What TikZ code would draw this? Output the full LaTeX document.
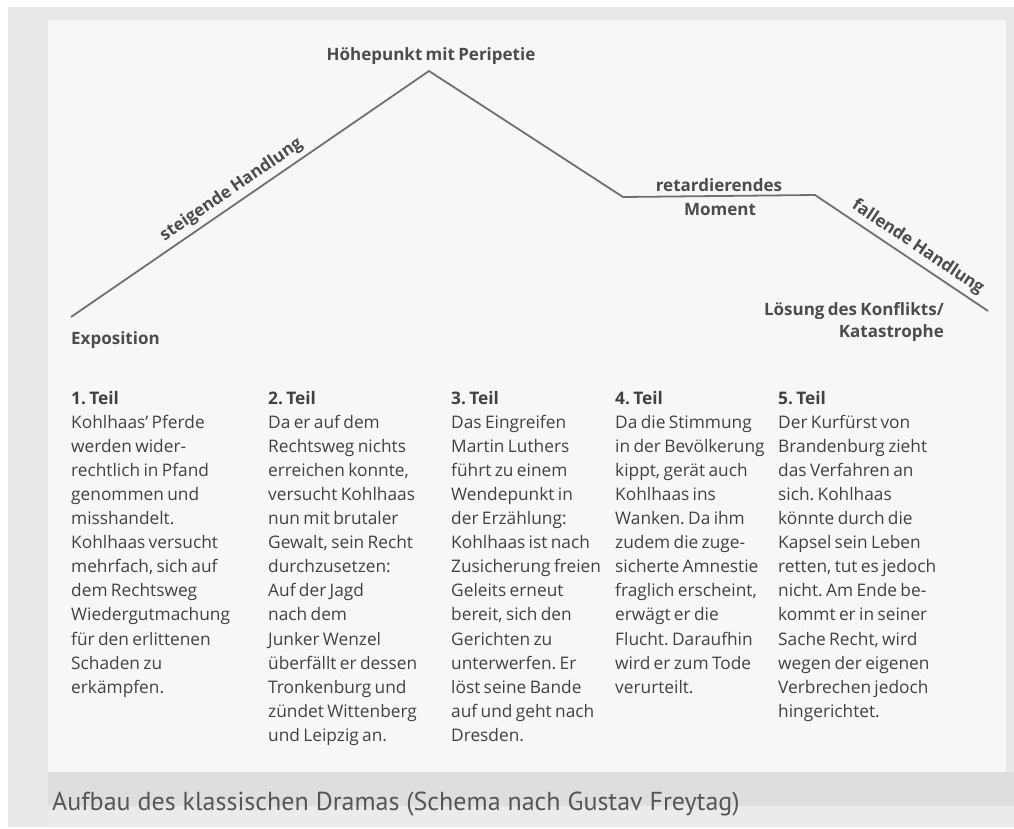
\documentclass[tikz,border=0pt]{standalone}
\usepackage{fontspec}
\setmainfont{Open Sans}[WordSpace=0.75]
\newfontfamily\capfont{PT Sans}
\definecolor{pagegrey}{HTML}{E8E8E8}
\definecolor{panel}{HTML}{F7F7F7}
\definecolor{strip}{HTML}{DEDEDE}
\definecolor{lowgrey}{HTML}{EBEBEB}
\definecolor{linegrey}{HTML}{707070}
\definecolor{labgrey}{HTML}{4C4C4C}
\definecolor{txtgrey}{HTML}{424242}
\definecolor{capgrey}{HTML}{565656}
\frenchspacing
\begin{document}
\begin{tikzpicture}[x=1pt,y=-1pt,
  curve/.style={draw=linegrey, line width=1.8pt, line join=miter},
  lab/.style={font=\fontsize{17}{20}\selectfont\bfseries, text=labgrey, inner sep=0pt},
  slab/.style={font=\fontsize{17}{20}\selectfont\bfseries, text=labgrey, inner sep=5pt, sloped, above},
  col/.style={font=\fontsize{17.3}{24.07}\selectfont, text=txtgrey, align=left, anchor=north west, inner sep=0pt},
]
\useasboundingbox (0,0) rectangle (1014,829);
\fill[white] (0,0) rectangle (1014,829);
\fill[pagegrey] (8,7) rectangle (1014,827);
\fill[panel] (48,20) rectangle (1006,772);
\fill[strip] (48,772) rectangle (1014,806);
\fill[lowgrey] (48,806) rectangle (1014,827);

% curve
\coordinate (start) at (71,317);
\coordinate (peak) at (429,71);
\coordinate (r1) at (623,197);
\coordinate (r2) at (815,195);
\coordinate (end) at (988,311);
\draw[curve] (start) -- (peak) -- (r1) -- (r2) -- (end);
\path (start) -- node[slab, pos=0.47] (steig) {steigende Handlung} (peak);
\path (r2) -- node[slab, pos=0.55] (fall) {fallende Handlung} (end);

\node[lab, anchor=base] (hoe) at (431,61) {Höhepunkt mit Peripetie};
\node[lab, anchor=base] (retard) at (719,192) {retardierendes};
\node[lab, anchor=base] (moment) at (720,215) {Moment};
\node[lab, anchor=base east] (loes) at (944,315) {Lösung des Konflikts/};
\node[lab, anchor=base east] (kata) at (944,337) {Katastrophe};
\node[lab, anchor=base west] (expo) at (71,344) {Exposition};

\node[col] (t1) at (71,391) {\textbf{1. Teil}\\Kohlhaas' Pferde\\werden wider-\\rechtlich in Pfand\\genommen und\\misshandelt.\\Kohlhaas versucht\\mehrfach, sich auf\\dem Rechtsweg\\Wiedergutmachung\\für den erlittenen\\Schaden zu\\erkämpfen.};
\node[col] (t2) at (268,391) {\textbf{2. Teil}\\Da er auf dem\\Rechtsweg nichts\\erreichen konnte,\\versucht Kohlhaas\\nun mit brutaler\\Gewalt, sein Recht\\durchzusetzen:\\Auf der Jagd\\nach dem\\Junker Wenzel\\überfällt er dessen\\Tronkenburg und\\zündet Wittenberg\\und Leipzig an.};
\node[col] (t3) at (451,391) {\textbf{3. Teil}\\Das Eingreifen\\Martin Luthers\\führt zu einem\\Wendepunkt in\\der Erzählung:\\Kohlhaas ist nach\\Zusicherung freien\\Geleits erneut\\bereit, sich den\\Gerichten zu\\unterwerfen. Er\\löst seine Bande\\auf und geht nach\\Dresden.};
\node[col] (t4) at (615,391) {\textbf{4. Teil}\\Da die Stimmung\\in der Bevölkerung\\kippt, gerät auch\\Kohlhaas ins\\Wanken. Da ihm\\zudem die zuge-\\sicherte Amnestie\\fraglich erscheint,\\erwägt er die\\Flucht. Daraufhin\\wird er zum Tode\\verurteilt.};
\node[col] (t5) at (778,391) {\textbf{5. Teil}\\Der Kurfürst von\\Brandenburg zieht\\das Verfahren an\\sich. Kohlhaas\\könnte durch die\\Kapsel sein Leben\\retten, tut es jedoch\\nicht. Am Ende be-\\kommt er in seiner\\Sache Recht, wird\\wegen der eigenen\\Verbrechen jedoch\\hingerichtet.};

\node[anchor=base west, inner sep=0pt, text=capgrey, font=\capfont\fontsize{26}{30}\selectfont] (cap) at (52,810) {Aufbau des klassischen Dramas (Schema nach Gustav Freytag)};
\end{tikzpicture}
\end{document}
